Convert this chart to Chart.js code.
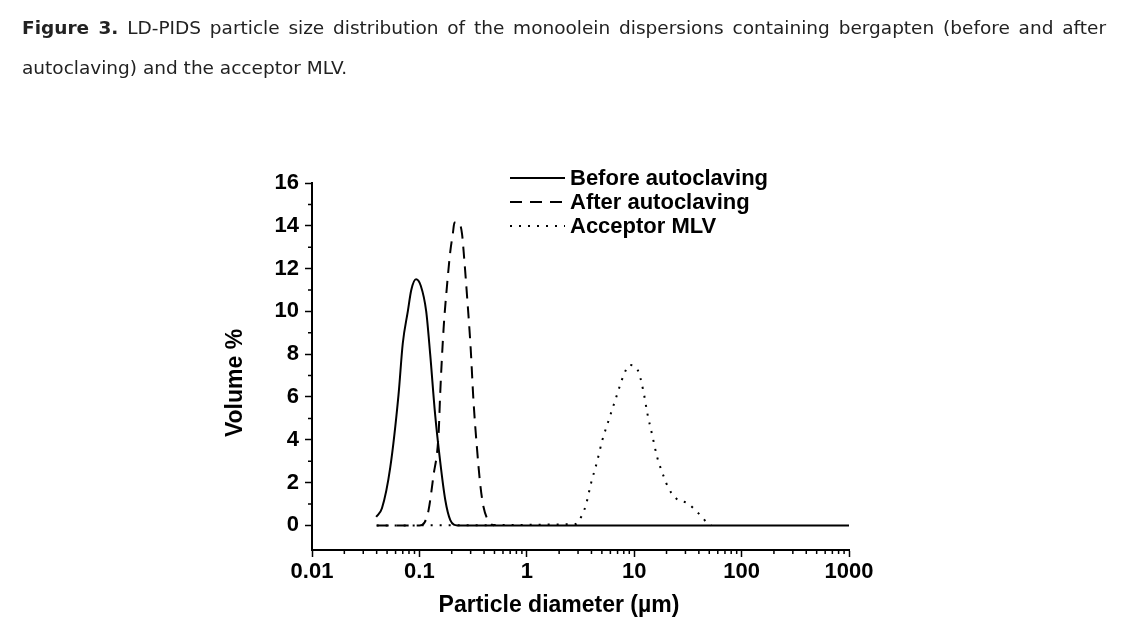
<!DOCTYPE html>
<html>
<head>
<meta charset="utf-8">
<script src="https://cdn.jsdelivr.net/npm/chart.js@4/dist/chart.umd.min.js"></script>
<style>
  body { margin: 0; background: #fff; }
  #wrap { position: relative; width: 1121px; height: 637px; overflow: hidden; }
  #chart { position: absolute; left: 0; top: 0; }
  .caption { position: absolute; left: 22px; top: 8px; width: 1084px; font-family: "DejaVu Sans", sans-serif; font-size: 18.5px; line-height: 40px; color: #222; }
  .caption .l1 { text-align: justify; text-align-last: justify; }
</style>
</head>
<body>
<div id="wrap">
  <canvas id="chart" width="1121" height="637"></canvas>
  <div class="caption">
    <div class="l1"><b>Figure 3.</b> LD-PIDS particle size distribution of the monoolein dispersions containing bergapten (before and after</div>
    <div>autoclaving) and the acceptor MLV.</div>
  </div>
</div>
<script>
// values (diameter in µm, volume %)
var beforeX = [0.0396, 0.0448, 0.0535, 0.0639, 0.070, 0.078, 0.084, 0.093, 0.103, 0.1157, 0.126, 0.140, 0.156, 0.174, 0.194, 0.226, 1000];
var beforeY = [0.4, 0.8, 2.7, 6.1, 8.5, 10.0, 11.0, 11.5, 11.2, 10.0, 8.0, 5.2, 3.0, 1.2, 0.25, 0, 0];

var afterX = [0.04, 0.1, 0.112, 0.1216, 0.135, 0.151, 0.156, 0.168, 0.180, 0.194, 0.205, 0.212, 0.231, 0.249, 0.261, 0.277, 0.300, 0.319, 0.343, 0.368, 0.395, 0.456, 0.5];
var afterY = [0, 0, 0.15, 0.7, 2.3, 4.3, 6.1, 9.2, 11.1, 12.8, 13.65, 14.15, 14.15, 13.65, 12.5, 10.8, 8.3, 5.8, 3.66, 1.95, 0.87, 0.1, 0];

var mlvX = [0.04, 2.82, 3.30, 3.57, 3.98, 4.5, 5.04, 5.81, 6.79, 7.94, 9.04, 10.8, 12.2, 13.3, 14.7, 16.3, 17.5, 19.0, 20.8, 24.6, 31.6, 39.7, 48.6, 52];
var mlvY = [0, 0.06, 0.52, 1.0, 2.0, 2.96, 3.97, 4.94, 5.98, 6.99, 7.49, 7.25, 6.25, 5.2, 4.23, 3.22, 2.72, 2.23, 1.75, 1.26, 1.02, 0.56, 0.09, 0];

var seriesNames = ['Before autoclaving', 'After autoclaving', 'Acceptor MLV'];
var xTickValues = [0.01, 0.1, 1, 10, 100, 1000];
var xTickLabels = ['0.01', '0.1', '1', '10', '100', '1000'];
var yTickValues = [0, 2, 4, 6, 8, 10, 12, 14, 16];
var yTickLabels = ['0', '2', '4', '6', '8', '10', '12', '14', '16'];
var xTitle = 'Particle diameter (\u00b5m)';
var yTitle = 'Volume %';

function pairs(xs, ys) {
    return xs.map(function (x, i) { return { x: x, y: ys[i] }; });
}

var boldFont = '"Liberation Sans", Arial, sans-serif';

// minor ticks, axis titles and legend
var extras = {
    id: 'extras',
    afterDraw: function (chart) {
        var ctx = chart.ctx;
        var xs = chart.scales.x, ys = chart.scales.y;
        var area = chart.chartArea;
        ctx.save();
        ctx.strokeStyle = '#000';
        ctx.lineWidth = 1.5;
        ctx.beginPath();
        for (var d = -2; d < 3; d++) {
            for (var k = 2; k < 10; k++) {
                var px = xs.getPixelForValue(k * Math.pow(10, d));
                ctx.moveTo(px, area.bottom);
                ctx.lineTo(px, area.bottom + 4);
            }
        }
        for (var v = 1; v < 16; v += 2) {
            var py = ys.getPixelForValue(v);
            ctx.moveTo(area.left, py);
            ctx.lineTo(area.left - 4, py);
        }
        ctx.stroke();

        ctx.fillStyle = '#000';
        ctx.font = 'bold 23px ' + boldFont;
        ctx.textAlign = 'center';
        ctx.textBaseline = 'alphabetic';
        ctx.fillText(xTitle, 559, 612);
        ctx.save();
        ctx.translate(236, 383);
        ctx.rotate(-Math.PI / 2);
        ctx.textBaseline = 'middle';
        ctx.fillText(yTitle, 0, 0);
        ctx.restore();

        // legend
        ctx.font = 'bold 22px ' + boldFont;
        ctx.textAlign = 'left';
        ctx.textBaseline = 'middle';
        chart.data.datasets.forEach(function (ds, i) {
            var y = 178 + i * 24;
            ctx.beginPath();
            ctx.lineWidth = ds.borderWidth;
            ctx.setLineDash(ds.borderDash || []);
            ctx.moveTo(510, y);
            ctx.lineTo(565, y);
            ctx.stroke();
            ctx.setLineDash([]);
            ctx.fillText(ds.label, 570, y + 1);
        });
        ctx.restore();
    }
};

var ctx = document.getElementById('chart').getContext('2d');
var sizeChart = new Chart(ctx, {
    type: 'line',
    data: {
        datasets: [{
            label: seriesNames[0],
            data: pairs(beforeX, beforeY),
            borderColor: '#000',
            borderWidth: 2,
            borderDash: []
        }, {
            label: seriesNames[1],
            data: pairs(afterX, afterY),
            borderColor: '#000',
            borderWidth: 2,
            borderDash: [12, 8]
        }, {
            label: seriesNames[2],
            data: pairs(mlvX, mlvY),
            borderColor: '#000',
            borderWidth: 2,
            borderDash: [2, 7]
        }]
    },
    options: {
        responsive: false,
        animation: false,
        devicePixelRatio: 1,
        layout: { padding: { top: 183, left: 225, right: 272, bottom: 0 } },
        elements: { point: { radius: 0 }, line: { cubicInterpolationMode: 'monotone' } },
        plugins: { legend: { display: false }, tooltip: { enabled: false } },
        scales: {
            x: {
                type: 'logarithmic',
                min: 0.01,
                max: 1000,
                afterFit: function (s) { s.height = 87; },
                afterBuildTicks: function (s) {
                    s.ticks = xTickValues.map(function (v) { return { value: v }; });
                },
                grid: { drawOnChartArea: false, tickLength: 7, tickWidth: 1.5, tickColor: '#000' },
                border: { color: '#000', width: 2 },
                ticks: {
                    color: '#000',
                    padding: 2,
                    maxRotation: 0,
                    font: { family: boldFont, size: 22, weight: 'bold' },
                    callback: function (v) {
                        var i = xTickValues.indexOf(v);
                        return i < 0 ? '' : xTickLabels[i];
                    }
                }
            },
            y: {
                min: -1.15,
                max: 16,
                afterFit: function (s) { s.width = 87; },
                afterBuildTicks: function (s) {
                    s.ticks = yTickValues.map(function (v) { return { value: v }; });
                },
                grid: { drawOnChartArea: false, tickLength: 7, tickWidth: 1.5, tickColor: '#000' },
                border: { color: '#000', width: 2 },
                ticks: {
                    color: '#000',
                    padding: 6,
                    font: { family: boldFont, size: 22, weight: 'bold' },
                    callback: function (v) {
                        var i = yTickValues.indexOf(v);
                        return i < 0 ? '' : yTickLabels[i];
                    }
                }
            }
        }
    },
    plugins: [extras]
});
</script>
</body>
</html>
